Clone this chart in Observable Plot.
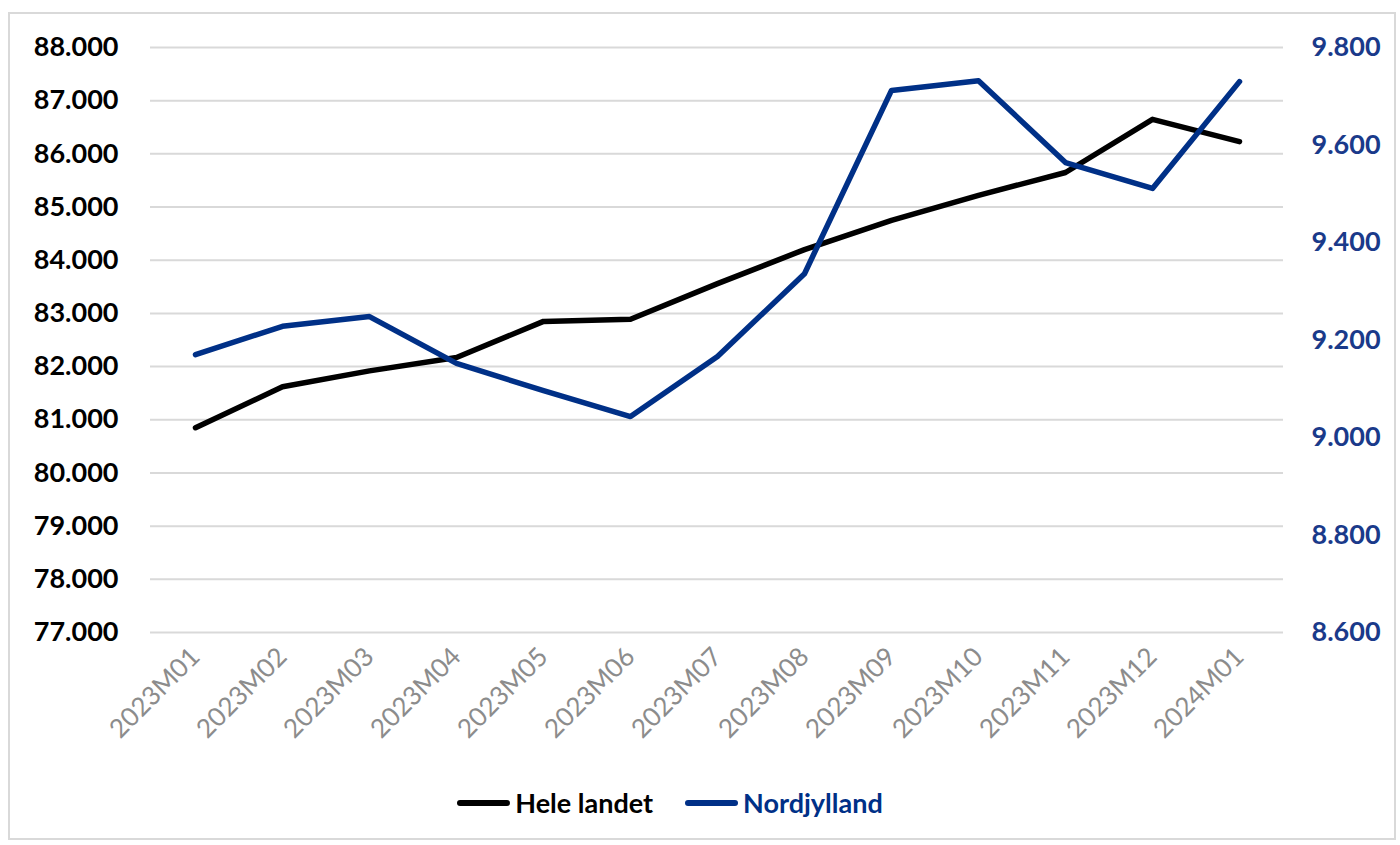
<!DOCTYPE html>
<html>
<head>
<meta charset="utf-8">
<script src="https://cdn.jsdelivr.net/npm/d3@7"></script>
<script src="https://cdn.jsdelivr.net/npm/@observablehq/plot@0.6"></script>
<style>
  html, body { margin: 0; padding: 0; background: #fff; }
  #frame { position: absolute; left: 8px; top: 12px; width: 1388px; height: 828px; border: 2px solid #d9d9d9; box-sizing: border-box; pointer-events: none; }
  #chart { position: absolute; left: 0; top: 0; }
  #legend { position: absolute; left: 0; top: 786px; width: 1340px; display: flex; justify-content: center; font-family: Lato, sans-serif; font-weight: 700; font-size: 27px; }
  .item { display: flex; align-items: center; margin: 0 16px; }
  .swatch { width: 53px; height: 6px; border-radius: 3px; margin-right: 5px; }
</style>
</head>
<body>
<div id="frame"></div>
<div id="chart"></div>
<div id="legend"></div>
<script>
const months = ["2023M01","2023M02","2023M03","2023M04","2023M05","2023M06","2023M07","2023M08","2023M09","2023M10","2023M11","2023M12","2024M01"];
const heleLandet = [80.85, 81.62, 81.92, 82.17, 82.85, 82.89, 83.56, 84.2, 84.75, 85.22, 85.65, 86.65, 86.23];
const nordjylland = [9.170, 9.228, 9.248, 9.152, 9.096, 9.043, 9.166, 9.336, 9.712, 9.732, 9.564, 9.511, 9.730];
const leftTicks = [77, 78, 79, 80, 81, 82, 83, 84, 85, 86, 87, 88];
const rightTicks = [8.6, 8.8, 9.0, 9.2, 9.4, 9.6, 9.8];
const seriesNames = ["Hele landet", "Nordjylland"];
const colors = ["#000000", "#003087"];

// map right-axis values onto left scale
const toLeft = v => 77 + (v - 8.6) * (11 / 1.2);
const fromLeft = y => 8.6 + (y - 77) * (1.2 / 11);
const fmt = v => v.toFixed(3);

const rowsHele = months.map((m, i) => ({month: m, value: heleLandet[i]}));
const rowsNord = months.map((m, i) => ({month: m, value: toLeft(nordjylland[i])}));

const chart = Plot.plot({
  width: 1400,
  height: 760,
  marginLeft: 150,
  marginRight: 117,
  marginTop: 47,
  marginBottom: 128,
  style: {fontFamily: "Lato, sans-serif", fontSize: "27px", background: "transparent", overflow: "visible"},
  x: {type: "point", domain: months, padding: 0.5},
  y: {domain: [77, 88]},
  marks: [
    Plot.ruleY(leftTicks, {stroke: "#d9d9d9", strokeWidth: 2}),
    Plot.axisY(leftTicks, {anchor: "left", tickSize: 0, tickPadding: 32, label: null,
      tickFormat: d => fmt(d), fontWeight: 700, fill: "#000", fontSize: 27}),
    Plot.axisY(rightTicks.map(toLeft), {anchor: "right", tickSize: 0, tickPadding: 28, label: null, textAnchor: "start",
      tickFormat: d => fmt(fromLeft(d)), fontWeight: 700, fill: "#1a3a8a", fontSize: 27}),
    Plot.axisX({anchor: "bottom", tickSize: 0, tickRotate: -45, tickPadding: 20, label: null,
      fill: "#8c8c8c", fontSize: 26}),
    Plot.line(rowsHele, {x: "month", y: "value", stroke: colors[0], strokeWidth: 5.5, strokeLinejoin: "round", strokeLinecap: "round"}),
    Plot.line(rowsNord, {x: "month", y: "value", stroke: colors[1], strokeWidth: 5.5, strokeLinejoin: "round", strokeLinecap: "round"})
  ]
});
document.getElementById("chart").appendChild(chart);

const legend = document.getElementById("legend");
seriesNames.forEach((name, i) => {
  const item = document.createElement("div");
  item.className = "item";
  const sw = document.createElement("div");
  sw.className = "swatch";
  sw.style.background = colors[i];
  const lab = document.createElement("span");
  lab.textContent = name;
  lab.style.color = colors[i];
  item.appendChild(sw);
  item.appendChild(lab);
  legend.appendChild(item);
});
</script>
</body>
</html>
